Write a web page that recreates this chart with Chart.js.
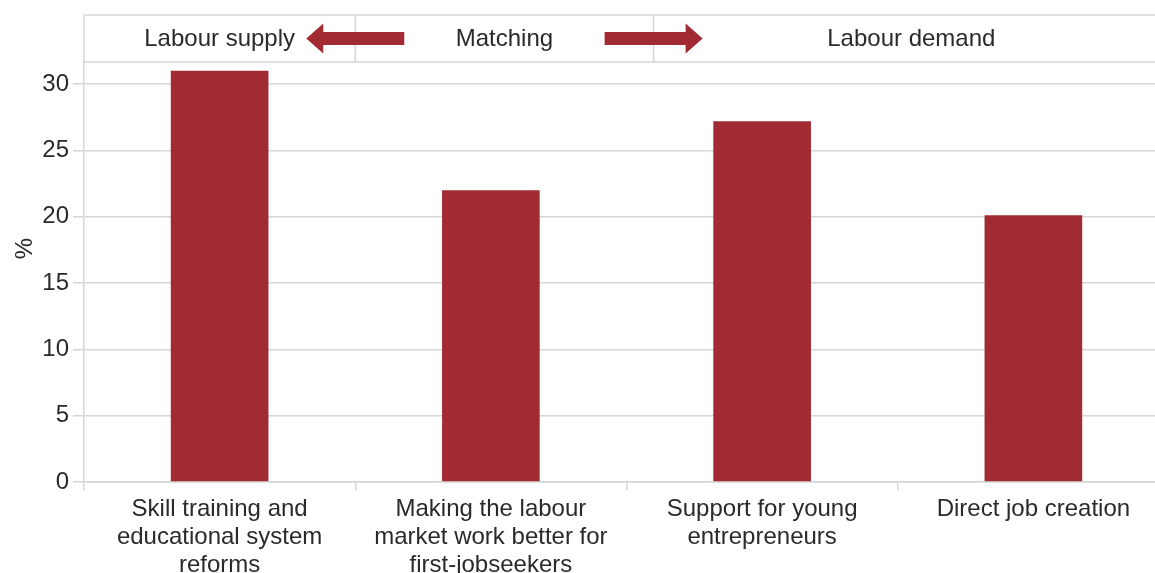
<!DOCTYPE html>
<html>
<head>
<meta charset="utf-8">
<script src="https://cdn.jsdelivr.net/npm/chart.js@4"></script>
<style>
  html, body { margin: 0; padding: 0; overflow: hidden; background: #fff; }
  #wrap { width: 1169px; height: 573px; position: relative; }
</style>
</head>
<body>
<div id="wrap"><canvas id="c"></canvas></div>
<script>
// Policy categories (multi-line labels) and share of respondents, in %
const categories = [
  ['Skill training and', 'educational system', 'reforms'],
  ['Making the labour', 'market work better for', 'first-jobseekers'],
  ['Support for young', 'entrepreneurs'],
  ['Direct job creation']
];
const shares = [31, 22, 27.2, 20.1];
const yTickValues = [0, 5, 10, 15, 20, 25, 30];
const headerLabels = ['Labour supply', 'Matching', 'Labour demand'];
const yTitle = '%';

const BAR = '#a12a33';
const GRID = '#d6d6d6';
const TEXT = '#2a2a2a';
const FONT = "'Liberation Sans', Arial, sans-serif";

// Header band above the plot: three zones split on the category axis,
// with arrows pointing outwards from the middle zone. The axis title is
// centred on the full height of the axis line, header included.
const headerBand = {
  id: 'headerBand',
  afterDraw(chart) {
    const { ctx, chartArea, scales: { x } } = chart;
    const bottom = chartArea.top;
    const top = bottom - 47;
    const edges = [-0.5, 0.5, 1.6, 3.5].map(v => x.getPixelForValue(v));
    ctx.save();
    ctx.strokeStyle = GRID;
    ctx.lineWidth = 1.5;
    ctx.beginPath();
    ctx.moveTo(edges[0], top); ctx.lineTo(chart.width, top);
    ctx.moveTo(edges[0], bottom); ctx.lineTo(chart.width, bottom);
    ctx.moveTo(edges[0], top); ctx.lineTo(edges[0], bottom);
    ctx.moveTo(edges[1], top); ctx.lineTo(edges[1], bottom);
    ctx.moveTo(edges[2], top); ctx.lineTo(edges[2], bottom);
    ctx.stroke();

    const cy = (top + bottom) / 2;
    ctx.fillStyle = TEXT;
    ctx.font = '24px ' + FONT;
    ctx.textAlign = 'center';
    ctx.textBaseline = 'middle';
    headerLabels.forEach((t, i) => {
      ctx.fillText(t, (edges[i] + edges[i + 1]) / 2, cy + 1);
    });

    // y-axis title
    ctx.save();
    ctx.translate(25, (top + chartArea.bottom) / 2);
    ctx.rotate(-Math.PI / 2);
    ctx.fillText(yTitle, 0, 0);
    ctx.restore();

    // arrows centred on the two inner dividers
    const arrow = (cx, dir) => {
      const half = 49, head = 17, hh = 15, sh = 6.5;
      const tip = cx + dir * half, tail = cx - dir * half, base = tip - dir * head;
      ctx.beginPath();
      ctx.moveTo(tail, cy - sh);
      ctx.lineTo(base, cy - sh);
      ctx.lineTo(base, cy - hh);
      ctx.lineTo(tip, cy);
      ctx.lineTo(base, cy + hh);
      ctx.lineTo(base, cy + sh);
      ctx.lineTo(tail, cy + sh);
      ctx.closePath();
      ctx.fill();
    };
    ctx.fillStyle = BAR;
    arrow(edges[1], -1);
    arrow(edges[2], 1);
    ctx.restore();
  }
};

new Chart(document.getElementById('c'), {
  type: 'bar',
  data: {
    labels: categories,
    datasets: [{
      data: shares,
      backgroundColor: BAR,
      borderWidth: 0,
      barPercentage: 0.36,
      categoryPercentage: 1
    }]
  },
  options: {
    responsive: true,
    maintainAspectRatio: false,
    animation: false,
    events: [],
    layout: { padding: { top: 62, right: 0, left: 0, bottom: 0 } },
    plugins: { legend: { display: false }, tooltip: { enabled: false } },
    scales: {
      x: {
        offset: true,
        grid: { display: true, drawOnChartArea: false, drawTicks: true, tickLength: 8, color: GRID, lineWidth: 1.5, offset: true },
        border: { display: true, color: GRID, width: 1.5 },
        ticks: { color: TEXT, font: { family: FONT, size: 24, lineHeight: 1.15 }, padding: 6, maxRotation: 0, autoSkip: false },
        afterFit(s) { s.height = 91; }
      },
      y: {
        min: 0,
        max: 31.66,
        afterBuildTicks(s) { s.ticks = yTickValues.map(v => ({ value: v })); },
        grid: { color: GRID, lineWidth: 1.5, drawTicks: true, tickLength: 11 },
        border: { display: true, color: GRID, width: 1.5 },
        ticks: { color: TEXT, font: { family: FONT, size: 24 }, padding: 4 },
        afterFit(s) { s.width = 84; }
      }
    }
  },
  plugins: [headerBand]
});
</script>
</body>
</html>
